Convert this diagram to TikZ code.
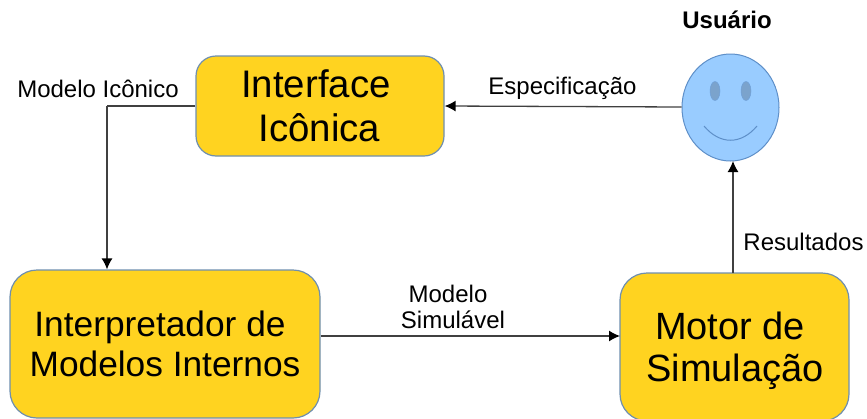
\documentclass[tikz,border=0pt]{standalone}
\usepackage{fontspec}
\setmainfont{Liberation Sans}
\usetikzlibrary{arrows.meta,shapes.geometric}
\definecolor{boxfill}{HTML}{FFD320}
\definecolor{boxline}{HTML}{6F8FAF}
\definecolor{face}{HTML}{99CCFF}
\definecolor{faceline}{HTML}{5E8FC8}
\definecolor{eye}{HTML}{7BA3CC}
\begin{document}
\begin{tikzpicture}[x=1pt,y=-1pt,
 bx/.style={draw=boxline,fill=boxfill,line width=1.2pt,inner sep=0pt},
 lbl/.style={font=\fontsize{24}{26}\selectfont,inner sep=0pt,align=center,text=black},
 big/.style={inner sep=0pt,align=center,text=black},
 lnk/.style={line width=1.3pt,draw=black!75},
 conn/.style={lnk,-{Latex[length=11pt,width=11pt,black]}}]
\useasboundingbox (0,0) rectangle (867,418);
\node[bx,rounded corners=20pt,minimum width=248pt,minimum height=100pt] (iface) at (320,106) {};
\node[bx,rounded corners=27pt,minimum width=310pt,minimum height=148pt] (interp) at (165,344) {};
\node[bx,rounded corners=27pt,minimum width=229pt,minimum height=148pt] (motor) at (734.5,347) {};
\node[big,font=\fontsize{38.4}{44}\selectfont] (ifacet) at (319.5,105.5) {Interface\hspace*{7pt}\\Icônica};
\node[big,font=\fontsize{35.3}{40}\selectfont] (interpt) at (165,344) {Interpretador de\hspace*{10pt}\\Modelos Internos};
\node[big,font=\fontsize{38}{42}\selectfont] (motort) at (735,351) {Motor de\hspace*{10pt}\\Simulação};
\node[draw=faceline,fill=face,ellipse,minimum width=97pt,minimum height=107pt,inner sep=0pt,line width=1pt] (user) at (730.5,107.5) {};
\node[draw=faceline!70!face,fill=eye,ellipse,minimum width=10pt,minimum height=19pt,inner sep=0pt,line width=0.5pt] (eyeL) at (715,91) {};
\node[draw=faceline!70!face,fill=eye,ellipse,minimum width=10pt,minimum height=19pt,inner sep=0pt,line width=0.5pt] (eyeR) at (746,91) {};
\draw[faceline,line width=1pt] (704,126) .. controls (720,145) and (741,145) .. (757,126);
\node[lbl,font=\fontsize{24}{26}\selectfont\bfseries] (utitle) at (727,20) {Usuário};
\node[lbl] (mi) at (98,89) {Modelo Icônico};
\node[lbl] (esp) at (562.5,88) {Especificação};
\node[lbl] (res) at (803.5,242) {Resultados};
\node[lbl] (ms) at (453,307) {Modelo\hspace*{10pt}\\Simulável};
\coordinate (bend) at (107,106);
\coordinate (mo) at (620,336);
\draw[lnk] (iface.west) -- (bend);
\draw[conn] (bend) -- (bend |- interp.north);
\draw[conn] (user.west |- 0,107) -- (iface.east);
\draw[conn] (733,273) -- (733,161);
\draw[conn] (interp.east |- mo) -- (mo);
\end{tikzpicture}
\end{document}
